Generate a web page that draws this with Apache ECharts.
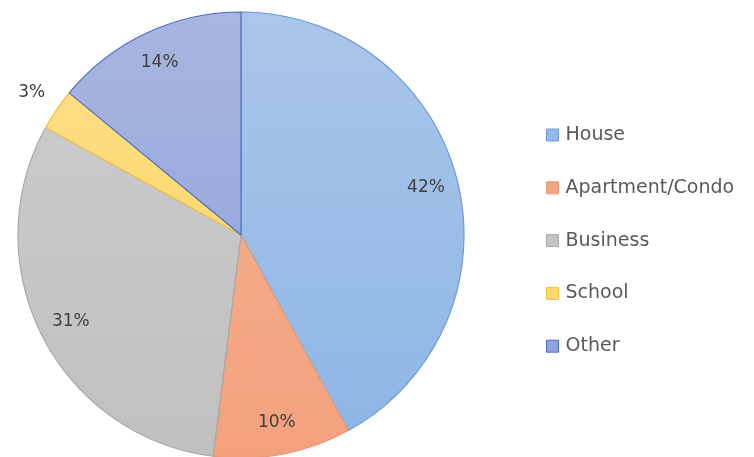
<!DOCTYPE html>
<html><head><meta charset="utf-8">
<script src="https://cdn.jsdelivr.net/npm/echarts@6/dist/echarts.min.js"></script>
<style>html,body{margin:0;padding:0;background:#fff}#c{width:754px;height:457px}</style>
</head><body><div id="c"></div>
<script>
const categories = ['House', 'Apartment/Condo', 'Business', 'School', 'Other'];
const values = [42, 10, 31, 3, 14];
const topColors = ['#aac6ea', '#f6b595', '#cdcdcd', '#fde08a', '#a8b5e0'];
const bottomColors = ['#8cb5e5', '#f3a17c', '#c0c0c0', '#fbd25c', '#8aa1db'];
const legendColors = ['#93bae6', '#f3a684', '#c4c4c4', '#fcd870', '#8ea3da'];
const borderColors = ['#6a9bd6', '#e79a77', '#a8a8a8', '#f0c040', '#4d6fc2'];
const outsideLabel = ['School'];

const cx = 241, cy = 235, R = 223;
function grad(i) {
  return {type: 'linear', x: 0, y: cy - R, x2: 0, y2: cy + R, global: true,
    colorStops: [{offset: 0, color: topColors[i]}, {offset: 1, color: bottomColors[i]}]};
}
const fmt = p => Math.round(p.percent) + '%';
const labelStyle = {color: '#404040', fontFamily: 'DejaVu Sans', fontSize: 17};

const chart = echarts.init(document.getElementById('c'));
chart.setOption({
  animation: false,
  legend: {
    orient: 'vertical', left: 541, top: 120,
    itemWidth: 12, itemHeight: 12, itemGap: 32.8,
    icon: 'rect',
    textStyle: {color: '#595959', fontFamily: 'DejaVu Sans', fontSize: 19, lineHeight: 20, padding: [0, 0, 0, 2]},
    data: categories.map((n, i) => ({name: n, itemStyle: {color: legendColors[i], borderColor: borderColors[i], borderWidth: 1}}))
  },
  series: [
    {
      type: 'pie', center: [cx, cy], radius: [0, R], startAngle: 90, clockwise: true,
      label: {show: false}, labelLine: {show: false},
      data: categories.map((n, i) => ({name: n, value: values[i],
        itemStyle: {color: grad(i), borderColor: borderColors[i], borderWidth: 1.2}}))
    },
    {
      type: 'pie', center: [cx, cy], radius: [0, 2 * 188], startAngle: 90, silent: true,
      itemStyle: {color: 'rgba(0,0,0,0)'}, labelLine: {show: false},
      label: Object.assign({show: true, position: 'inside', formatter: fmt}, labelStyle),
      data: categories.map((n, i) => ({name: n, value: values[i],
        label: {show: outsideLabel.indexOf(n) < 0}}))
    },
    {
      type: 'pie', center: [cx, cy], radius: [0, 2 * 250], startAngle: 90, silent: true,
      itemStyle: {color: 'rgba(0,0,0,0)'}, labelLine: {show: false},
      label: Object.assign({show: true, position: 'inside', formatter: fmt}, labelStyle),
      data: categories.map((n, i) => ({name: n, value: values[i],
        label: {show: outsideLabel.indexOf(n) >= 0}}))
    }
  ]
});
</script></body></html>
